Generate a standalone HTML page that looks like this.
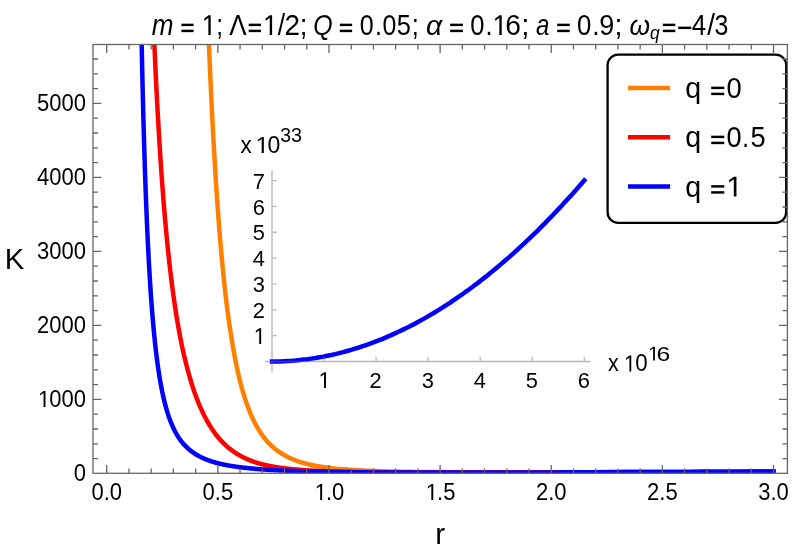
<!DOCTYPE html>
<html><head><meta charset="utf-8"><title>K vs r</title>
<style>html,body{margin:0;padding:0;background:#fff;}body{width:793px;height:557px;overflow:hidden;}svg{display:block;will-change:transform;}text{font-family:"Liberation Sans",sans-serif;fill:#000;}</style>
</head><body>
<svg width="793" height="557" viewBox="0 0 793 557">
<rect width="793" height="557" fill="#fff"/>
<defs><clipPath id="cp"><rect x="93.00" y="44.50" width="694.40" height="428.80"/></clipPath></defs>
<g clip-path="url(#cp)" fill="none" stroke-width="4.50" stroke-linecap="square" stroke-linejoin="round">
<path d="M206.7,-15.4L207.1,-4.1L207.5,6.9L207.9,17.5L208.3,27.9L208.7,38.0L209.1,47.9L209.5,57.4L209.9,66.8L210.3,75.9L210.7,84.7L211.1,93.3L211.5,101.7L211.9,109.9L212.3,117.8L212.7,125.6L213.1,133.1L213.5,140.5L213.9,147.7L214.3,154.7L214.7,161.5L215.1,168.1L215.5,174.6L215.9,180.9L216.3,187.1L216.7,193.1L217.1,199.0L217.5,204.7L217.9,210.3L218.3,215.7L218.7,221.0L219.1,226.2L219.5,231.3L219.9,236.2L220.3,241.0L220.7,245.7L221.1,250.3L221.5,254.8L221.9,259.2L222.3,263.4L222.7,267.6L223.1,271.7L223.5,275.7L223.9,279.5L224.3,283.3L224.7,287.0L225.1,290.7L225.5,294.2L225.9,297.7L226.3,301.1L226.7,304.4L227.1,307.6L227.5,310.7L227.9,313.8L228.3,316.8L228.7,319.8L229.1,322.7L229.5,325.5L230.0,328.3L230.4,331.0L230.8,333.6L231.2,336.2L231.6,338.7L232.0,341.2L232.4,343.6L232.8,346.0L233.2,348.3L233.6,350.5L234.0,352.7L234.4,354.9L234.8,357.0L235.2,359.1L235.6,361.2L236.0,363.1L236.4,365.1L236.8,367.0L237.2,368.9L237.6,370.7L238.0,372.5L238.4,374.2L238.8,376.0L239.2,377.6L239.6,379.3L240.0,380.9L240.4,382.5L240.8,384.0L241.2,385.6L241.6,387.1L242.0,388.5L242.4,389.9L242.8,391.3L243.2,392.7L243.6,394.1L244.0,395.4L244.4,396.7L244.8,397.9L245.2,399.2L245.6,400.4L246.0,401.6L246.4,402.8L246.8,403.9L247.2,405.1L247.6,406.2L248.0,407.2L248.4,408.3L248.8,409.4L249.2,410.4L249.6,411.4L250.0,412.4L250.4,413.3L250.8,414.3L251.2,415.2L251.6,416.1L252.0,417.0L252.4,417.9L252.8,418.8L253.2,419.6L253.6,420.4L254.0,421.3L254.4,422.1L254.8,422.8L255.2,423.6L255.6,424.4L256.0,425.1L256.4,425.8L256.8,426.6L257.2,427.3L257.6,428.0L258.0,428.6L258.4,429.3L258.8,430.0L259.2,430.6L259.6,431.2L260.0,431.9L260.4,432.5L260.8,433.1L261.2,433.7L261.6,434.2L262.0,434.8L262.4,435.4L262.8,435.9L263.2,436.5L263.6,437.0L264.0,437.5L264.4,438.0L264.8,438.5L265.2,439.0L265.6,439.5L266.0,440.0L266.4,440.5L266.8,440.9L267.2,441.4L267.6,441.8L268.0,442.3L268.4,442.7L268.8,443.1L269.2,443.5L269.6,443.9L270.0,444.3L270.4,444.7L270.8,445.1L271.2,445.5L271.6,445.9L272.0,446.3L272.4,446.6L272.8,447.0L273.2,447.3L273.6,447.7L274.0,448.0L274.4,448.4L274.9,448.7L275.3,449.0L275.7,449.4L276.1,449.7L276.5,450.0L276.9,450.3L277.3,450.6L277.7,450.9L278.1,451.2L278.5,451.5L278.9,451.7L279.3,452.0L279.7,452.3L280.1,452.6L280.5,452.8L280.9,453.1L281.3,453.3L281.7,453.6L282.1,453.9L282.5,454.1L282.9,454.3L283.3,454.6L283.7,454.8L284.1,455.0L284.5,455.3L284.9,455.5L285.3,455.7L285.7,455.9L286.1,456.1L286.5,456.4L286.9,456.6L287.3,456.8L287.7,457.0L288.1,457.2L288.5,457.4L288.9,457.6L289.3,457.7L289.7,457.9L290.1,458.1L290.5,458.3L290.9,458.5L291.3,458.7L291.7,458.8L292.1,459.0L292.5,459.2L292.9,459.3L293.3,459.5L293.7,459.7L294.1,459.8L294.5,460.0L294.9,460.1L295.3,460.3L295.7,460.4L296.1,460.6L296.5,460.7L296.9,460.9L297.3,461.0L297.7,461.2L298.1,461.3L298.5,461.4L298.9,461.6L299.3,461.7L299.7,461.8L300.1,462.0L300.5,462.1L300.9,462.2L301.3,462.3L301.7,462.4L302.1,462.6L302.5,462.7L302.9,462.8L303.3,462.9L303.7,463.0L304.1,463.1L304.5,463.3L304.9,463.4L305.3,463.5L305.7,463.6L306.1,463.7L306.5,463.8L306.9,463.9L307.3,464.0L307.7,464.1L308.1,464.2L308.5,464.3L308.9,464.4L309.3,464.5L309.7,464.6L310.1,464.7L310.5,464.7L310.9,464.8L311.3,464.9L311.7,465.0L312.1,465.1L312.5,465.2L312.9,465.3L313.3,465.3L313.7,465.4L314.1,465.5L314.5,465.6L314.9,465.7L315.3,465.7L315.7,465.8L316.1,465.9L316.5,466.0L316.9,466.0L317.3,466.1L317.7,466.2L318.1,466.2L318.5,466.3L318.9,466.4L319.3,466.5L319.7,466.5L320.2,466.6L320.6,466.7L321.0,466.7L321.4,466.8L321.8,466.8L322.2,466.9L322.6,467.0L323.0,467.0L323.4,467.1L323.8,467.1L324.2,467.2L324.6,467.3L325.0,467.3L325.4,467.4L325.8,467.4L326.2,467.5L326.6,467.5L327.0,467.6L327.4,467.6L327.8,467.7L328.2,467.7L328.6,467.8L329.0,467.8L332.7,468.3L336.4,468.7L340.2,469.0L343.9,469.3L347.6,469.6L351.4,469.9L355.1,470.1L358.9,470.3L362.6,470.5L366.3,470.7L370.1,470.8L373.8,471.0L377.5,471.1L381.3,471.2L385.0,471.3L388.7,471.4L392.5,471.5L396.2,471.6L399.9,471.7L403.7,471.7L407.4,471.8L411.2,471.8L414.9,471.9L418.6,471.9L422.4,472.0L426.1,472.0L429.8,472.0L433.6,472.1L437.3,472.1L441.0,472.1L444.8,472.1L448.5,472.2L452.2,472.2L456.0,472.2L459.7,472.2L463.5,472.2L467.2,472.2L470.9,472.2L474.7,472.3L478.4,472.3L482.1,472.3L485.9,472.3L489.6,472.3L493.3,472.3L497.1,472.3L500.8,472.3L504.5,472.3L508.3,472.3L512.0,472.3L515.8,472.3L519.5,472.3L523.2,472.3L527.0,472.3L530.7,472.3L534.4,472.3L538.2,472.3L541.9,472.3L545.6,472.3L549.4,472.2L553.1,472.2L556.8,472.2L560.6,472.2L564.3,472.2L568.1,472.2L571.8,472.2L575.5,472.2L579.3,472.2L583.0,472.2L586.7,472.2L590.5,472.2L594.2,472.2L597.9,472.1L601.7,472.1L605.4,472.1L609.1,472.1L612.9,472.1L616.6,472.1L620.3,472.1L624.1,472.1L627.8,472.1L631.6,472.0L635.3,472.0L639.0,472.0L642.8,472.0L646.5,472.0L650.2,472.0L654.0,472.0L657.7,472.0L661.4,471.9L665.2,471.9L668.9,471.9L672.6,471.9L676.4,471.9L680.1,471.9L683.9,471.9L687.6,471.9L691.3,471.8L695.1,471.8L698.8,471.8L702.5,471.8L706.3,471.8L710.0,471.8L713.7,471.8L717.5,471.7L721.2,471.7L724.9,471.7L728.7,471.7L732.4,471.7L736.2,471.7L739.9,471.7L743.6,471.6L747.4,471.6L751.1,471.6L754.8,471.6L758.6,471.6L762.3,471.6L766.0,471.5L769.8,471.5L773.5,471.5" stroke="#ff8000"/>
<path d="M152.2,-10.0L152.6,0.7L153.0,11.1L153.4,21.2L153.8,30.9L154.2,40.4L154.6,49.6L155.0,58.5L155.4,67.2L155.8,75.6L156.2,83.8L156.6,91.8L157.0,99.5L157.4,107.1L157.8,114.4L158.2,121.5L158.6,128.4L159.0,135.2L159.4,141.8L159.8,148.2L160.2,154.4L160.6,160.5L161.0,166.4L161.4,172.2L161.8,177.9L162.2,183.4L162.6,188.7L163.0,194.0L163.4,199.1L163.8,204.1L164.2,208.9L164.6,213.7L165.0,218.3L165.4,222.9L165.8,227.3L166.2,231.6L166.6,235.9L167.0,240.0L167.4,244.0L167.8,248.0L168.2,251.9L168.6,255.6L169.0,259.3L169.4,262.9L169.8,266.5L170.2,270.0L170.6,273.3L171.0,276.7L171.4,279.9L171.8,283.1L172.2,286.2L172.6,289.3L173.0,292.3L173.4,295.2L173.8,298.0L174.2,300.9L174.6,303.6L175.0,306.3L175.4,309.0L175.8,311.6L176.2,314.1L176.6,316.6L177.0,319.1L177.4,321.5L177.8,323.8L178.2,326.1L178.6,328.4L179.0,330.6L179.4,332.8L179.8,334.9L180.2,337.0L180.6,339.1L181.0,341.1L181.4,343.1L181.8,345.1L182.2,347.0L182.6,348.9L183.0,350.7L183.4,352.6L183.8,354.4L184.2,356.1L184.7,357.8L185.1,359.5L185.5,361.2L185.9,362.8L186.3,364.5L186.7,366.0L187.1,367.6L187.5,369.1L187.9,370.6L188.3,372.1L188.7,373.6L189.1,375.0L189.5,376.4L189.9,377.8L190.3,379.2L190.7,380.5L191.1,381.8L191.5,383.1L191.9,384.4L192.3,385.7L192.7,386.9L193.1,388.1L193.5,389.3L193.9,390.5L194.3,391.7L194.7,392.8L195.1,394.0L195.5,395.1L195.9,396.2L196.3,397.2L196.7,398.3L197.1,399.3L197.5,400.4L197.9,401.4L198.3,402.4L198.7,403.4L199.1,404.3L199.5,405.3L199.9,406.2L200.3,407.1L200.7,408.1L201.1,409.0L201.5,409.8L201.9,410.7L202.3,411.6L202.7,412.4L203.1,413.2L203.5,414.1L203.9,414.9L204.3,415.7L204.7,416.5L205.1,417.2L205.5,418.0L205.9,418.8L206.3,419.5L206.7,420.2L207.1,420.9L207.5,421.7L207.9,422.4L208.3,423.1L208.7,423.7L209.1,424.4L209.5,425.1L209.9,425.7L210.3,426.4L210.7,427.0L211.1,427.6L211.5,428.2L211.9,428.8L212.3,429.4L212.7,430.0L213.1,430.6L213.5,431.2L213.9,431.7L214.3,432.3L214.7,432.8L215.1,433.4L215.5,433.9L215.9,434.5L216.3,435.0L216.7,435.5L217.1,436.0L217.5,436.5L217.9,437.0L218.3,437.5L218.7,437.9L219.1,438.4L219.5,438.9L219.9,439.3L220.3,439.8L220.7,440.2L221.1,440.7L221.5,441.1L221.9,441.5L222.3,441.9L222.7,442.3L223.1,442.8L223.5,443.2L223.9,443.6L224.3,443.9L224.7,444.3L225.1,444.7L225.5,445.1L225.9,445.5L226.3,445.8L226.7,446.2L227.1,446.5L227.5,446.9L227.9,447.2L228.3,447.6L228.7,447.9L229.1,448.2L229.5,448.6L230.0,448.9L230.4,449.2L230.8,449.5L231.2,449.8L231.6,450.1L232.0,450.4L232.4,450.7L232.8,451.0L233.2,451.3L233.6,451.6L234.0,451.9L234.4,452.1L234.8,452.4L235.2,452.7L235.6,452.9L236.0,453.2L236.4,453.5L236.8,453.7L237.2,454.0L237.6,454.2L238.0,454.4L238.4,454.7L238.8,454.9L239.2,455.2L239.6,455.4L240.0,455.6L240.4,455.8L240.8,456.1L241.2,456.3L241.6,456.5L242.0,456.7L242.4,456.9L242.8,457.1L243.2,457.3L243.6,457.5L244.0,457.7L244.4,457.9L244.8,458.1L245.2,458.3L245.6,458.5L246.0,458.6L246.4,458.8L246.8,459.0L247.2,459.2L247.6,459.3L248.0,459.5L248.4,459.7L248.8,459.9L249.2,460.0L249.6,460.2L250.0,460.3L250.4,460.5L250.8,460.6L251.2,460.8L251.6,461.0L252.0,461.1L252.4,461.2L252.8,461.4L253.2,461.5L253.6,461.7L254.0,461.8L254.4,461.9L254.8,462.1L255.2,462.2L255.6,462.3L256.0,462.5L256.4,462.6L256.8,462.7L257.2,462.9L257.6,463.0L258.0,463.1L258.4,463.2L258.8,463.3L259.2,463.4L259.6,463.6L260.0,463.7L260.4,463.8L260.8,463.9L261.2,464.0L261.6,464.1L262.0,464.2L262.4,464.3L262.8,464.4L263.2,464.5L263.6,464.6L264.0,464.7L264.4,464.8L264.8,464.9L265.2,465.0L265.6,465.1L266.0,465.2L266.4,465.3L266.8,465.4L267.2,465.4L267.6,465.5L268.0,465.6L268.4,465.7L268.8,465.8L269.2,465.9L269.6,466.0L270.0,466.0L270.4,466.1L270.8,466.2L271.2,466.3L271.6,466.3L272.0,466.4L272.4,466.5L272.8,466.6L273.2,466.6L273.6,466.7L274.0,466.8L274.4,466.8L274.9,466.9L275.3,467.0L275.7,467.0L276.1,467.1L276.5,467.2L276.9,467.2L277.3,467.3L277.7,467.4L278.1,467.4L278.5,467.5L278.9,467.5L279.3,467.6L279.7,467.7L280.1,467.7L280.5,467.8L280.9,467.8L281.3,467.9L281.7,467.9L282.1,468.0L282.5,468.0L282.9,468.1L283.3,468.1L283.7,468.2L284.1,468.2L284.5,468.3L284.9,468.3L285.3,468.4L285.7,468.4L286.1,468.5L286.5,468.5L286.9,468.6L287.3,468.6L287.7,468.7L288.1,468.7L288.5,468.8L288.9,468.8L289.3,468.8L289.7,468.9L290.1,468.9L290.5,469.0L290.9,469.0L291.3,469.0L291.7,469.1L292.1,469.1L292.5,469.2L292.9,469.2L293.3,469.2L293.7,469.3L294.1,469.3L294.5,469.3L294.9,469.4L295.3,469.4L295.7,469.5L296.1,469.5L296.5,469.5L296.9,469.6L297.3,469.6L297.7,469.6L298.1,469.6L298.5,469.7L298.9,469.7L299.3,469.7L299.7,469.8L300.1,469.8L300.5,469.8L300.9,469.9L301.3,469.9L301.7,469.9L302.1,470.0L302.5,470.0L302.9,470.0L303.3,470.0L303.7,470.1L304.1,470.1L304.5,470.1L304.9,470.1L305.3,470.2L305.7,470.2L306.1,470.2L306.5,470.2L306.9,470.3L307.3,470.3L307.7,470.3L308.1,470.3L308.5,470.4L308.9,470.4L309.3,470.4L309.7,470.4L310.1,470.5L310.5,470.5L310.9,470.5L311.3,470.5L311.7,470.5L312.1,470.6L312.5,470.6L312.9,470.6L313.3,470.6L313.7,470.6L314.1,470.7L314.5,470.7L314.9,470.7L315.3,470.7L315.7,470.7L316.1,470.8L316.5,470.8L316.9,470.8L317.3,470.8L317.7,470.8L318.1,470.8L318.5,470.9L318.9,470.9L319.3,470.9L319.7,470.9L320.2,470.9L320.6,471.0L321.0,471.0L321.4,471.0L321.8,471.0L322.2,471.0L322.6,471.0L323.0,471.0L323.4,471.1L323.8,471.1L324.2,471.1L324.6,471.1L325.0,471.1L325.4,471.1L325.8,471.1L326.2,471.2L326.6,471.2L327.0,471.2L327.4,471.2L327.8,471.2L328.2,471.2L328.6,471.2L329.0,471.3L332.7,471.4L336.4,471.5L340.2,471.6L343.9,471.7L347.6,471.7L351.4,471.8L355.1,471.9L358.9,471.9L362.6,472.0L366.3,472.0L370.1,472.1L373.8,472.1L377.5,472.1L381.3,472.2L385.0,472.2L388.7,472.2L392.5,472.3L396.2,472.3L399.9,472.3L403.7,472.3L407.4,472.3L411.2,472.4L414.9,472.4L418.6,472.4L422.4,472.4L426.1,472.4L429.8,472.4L433.6,472.4L437.3,472.4L441.0,472.4L444.8,472.4L448.5,472.4L452.2,472.4L456.0,472.4L459.7,472.4L463.5,472.4L467.2,472.4L470.9,472.4L474.7,472.4L478.4,472.4L482.1,472.4L485.9,472.4L489.6,472.4L493.3,472.4L497.1,472.4L500.8,472.4L504.5,472.4L508.3,472.4L512.0,472.4L515.8,472.4L519.5,472.4L523.2,472.4L527.0,472.4L530.7,472.4L534.4,472.3L538.2,472.3L541.9,472.3L545.6,472.3L549.4,472.3L553.1,472.3L556.8,472.3L560.6,472.3L564.3,472.3L568.1,472.3L571.8,472.3L575.5,472.2L579.3,472.2L583.0,472.2L586.7,472.2L590.5,472.2L594.2,472.2L597.9,472.2L601.7,472.2L605.4,472.2L609.1,472.1L612.9,472.1L616.6,472.1L620.3,472.1L624.1,472.1L627.8,472.1L631.6,472.1L635.3,472.1L639.0,472.0L642.8,472.0L646.5,472.0L650.2,472.0L654.0,472.0L657.7,472.0L661.4,472.0L665.2,472.0L668.9,471.9L672.6,471.9L676.4,471.9L680.1,471.9L683.9,471.9L687.6,471.9L691.3,471.9L695.1,471.8L698.8,471.8L702.5,471.8L706.3,471.8L710.0,471.8L713.7,471.8L717.5,471.8L721.2,471.7L724.9,471.7L728.7,471.7L732.4,471.7L736.2,471.7L739.9,471.7L743.6,471.6L747.4,471.6L751.1,471.6L754.8,471.6L758.6,471.6L762.3,471.6L766.0,471.6L769.8,471.5L773.5,471.5" stroke="#ff0000"/>
<path d="M140.6,-12.8L141.0,9.7L141.4,30.8L141.8,50.5L142.2,69.0L142.6,86.4L143.0,102.8L143.4,118.2L143.8,132.7L144.2,146.4L144.6,159.4L145.0,171.6L145.4,183.2L145.8,194.2L146.2,204.6L146.6,214.5L147.0,223.9L147.4,232.8L147.8,241.3L148.2,249.3L148.6,257.0L149.0,264.4L149.4,271.3L149.8,278.0L150.2,284.4L150.6,290.5L151.0,296.3L151.4,301.8L151.8,307.2L152.2,312.3L152.6,317.2L153.0,321.8L153.4,326.3L153.8,330.6L154.2,334.8L154.6,338.7L155.0,342.6L155.4,346.2L155.8,349.8L156.2,353.2L156.6,356.4L157.0,359.6L157.4,362.6L157.8,365.5L158.2,368.3L158.6,371.0L159.0,373.6L159.4,376.2L159.8,378.6L160.2,381.0L160.6,383.2L161.0,385.4L161.4,387.5L161.8,389.6L162.2,391.6L162.6,393.5L163.0,395.3L163.4,397.1L163.8,398.9L164.2,400.6L164.6,402.2L165.0,403.8L165.4,405.3L165.8,406.8L166.2,408.2L166.6,409.6L167.0,411.0L167.4,412.3L167.8,413.6L168.2,414.8L168.6,416.0L169.0,417.2L169.4,418.3L169.8,419.4L170.2,420.5L170.6,421.5L171.0,422.5L171.4,423.5L171.8,424.5L172.2,425.4L172.6,426.3L173.0,427.2L173.4,428.1L173.8,428.9L174.2,429.7L174.6,430.5L175.0,431.3L175.4,432.0L175.8,432.8L176.2,433.5L176.6,434.2L177.0,434.9L177.4,435.5L177.8,436.2L178.2,436.8L178.6,437.4L179.0,438.1L179.4,438.6L179.8,439.2L180.2,439.8L180.6,440.3L181.0,440.9L181.4,441.4L181.8,441.9L182.2,442.4L182.6,442.9L183.0,443.4L183.4,443.8L183.8,444.3L184.2,444.7L184.7,445.2L185.1,445.6L185.5,446.0L185.9,446.4L186.3,446.8L186.7,447.2L187.1,447.6L187.5,448.0L187.9,448.4L188.3,448.7L188.7,449.1L189.1,449.4L189.5,449.8L189.9,450.1L190.3,450.4L190.7,450.7L191.1,451.1L191.5,451.4L191.9,451.7L192.3,452.0L192.7,452.2L193.1,452.5L193.5,452.8L193.9,453.1L194.3,453.3L194.7,453.6L195.1,453.9L195.5,454.1L195.9,454.4L196.3,454.6L196.7,454.9L197.1,455.1L197.5,455.3L197.9,455.6L198.3,455.8L198.7,456.0L199.1,456.2L199.5,456.4L199.9,456.6L200.3,456.8L200.7,457.0L201.1,457.2L201.5,457.4L201.9,457.6L202.3,457.8L202.7,458.0L203.1,458.2L203.5,458.3L203.9,458.5L204.3,458.7L204.7,458.9L205.1,459.0L205.5,459.2L205.9,459.4L206.3,459.5L206.7,459.7L207.1,459.8L207.5,460.0L207.9,460.1L208.3,460.3L208.7,460.4L209.1,460.6L209.5,460.7L209.9,460.8L210.3,461.0L210.7,461.1L211.1,461.2L211.5,461.4L211.9,461.5L212.3,461.6L212.7,461.8L213.1,461.9L213.5,462.0L213.9,462.1L214.3,462.2L214.7,462.3L215.1,462.5L215.5,462.6L215.9,462.7L216.3,462.8L216.7,462.9L217.1,463.0L217.5,463.1L217.9,463.2L218.3,463.3L218.7,463.4L219.1,463.5L219.5,463.6L219.9,463.7L220.3,463.8L220.7,463.9L221.1,464.0L221.5,464.1L221.9,464.2L222.3,464.3L222.7,464.3L223.1,464.4L223.5,464.5L223.9,464.6L224.3,464.7L224.7,464.8L225.1,464.8L225.5,464.9L225.9,465.0L226.3,465.1L226.7,465.2L227.1,465.2L227.5,465.3L227.9,465.4L228.3,465.5L228.7,465.5L229.1,465.6L229.5,465.7L230.0,465.7L230.4,465.8L230.8,465.9L231.2,465.9L231.6,466.0L232.0,466.1L232.4,466.1L232.8,466.2L233.2,466.3L233.6,466.3L234.0,466.4L234.4,466.4L234.8,466.5L235.2,466.6L235.6,466.6L236.0,466.7L236.4,466.7L236.8,466.8L237.2,466.9L237.6,466.9L238.0,467.0L238.4,467.0L238.8,467.1L239.2,467.1L239.6,467.2L240.0,467.2L240.4,467.3L240.8,467.3L241.2,467.4L241.6,467.4L242.0,467.5L242.4,467.5L242.8,467.6L243.2,467.6L243.6,467.7L244.0,467.7L244.4,467.8L244.8,467.8L245.2,467.8L245.6,467.9L246.0,467.9L246.4,468.0L246.8,468.0L247.2,468.1L247.6,468.1L248.0,468.1L248.4,468.2L248.8,468.2L249.2,468.3L249.6,468.3L250.0,468.3L250.4,468.4L250.8,468.4L251.2,468.5L251.6,468.5L252.0,468.5L252.4,468.6L252.8,468.6L253.2,468.6L253.6,468.7L254.0,468.7L254.4,468.8L254.8,468.8L255.2,468.8L255.6,468.9L256.0,468.9L256.4,468.9L256.8,469.0L257.2,469.0L257.6,469.0L258.0,469.1L258.4,469.1L258.8,469.1L259.2,469.1L259.6,469.2L260.0,469.2L260.4,469.2L260.8,469.3L261.2,469.3L261.6,469.3L262.0,469.4L262.4,469.4L262.8,469.4L263.2,469.4L263.6,469.5L264.0,469.5L264.4,469.5L264.8,469.6L265.2,469.6L265.6,469.6L266.0,469.6L266.4,469.7L266.8,469.7L267.2,469.7L267.6,469.7L268.0,469.8L268.4,469.8L268.8,469.8L269.2,469.8L269.6,469.9L270.0,469.9L270.4,469.9L270.8,469.9L271.2,470.0L271.6,470.0L272.0,470.0L272.4,470.0L272.8,470.1L273.2,470.1L273.6,470.1L274.0,470.1L274.4,470.1L274.9,470.2L275.3,470.2L275.7,470.2L276.1,470.2L276.5,470.2L276.9,470.3L277.3,470.3L277.7,470.3L278.1,470.3L278.5,470.3L278.9,470.4L279.3,470.4L279.7,470.4L280.1,470.4L280.5,470.4L280.9,470.5L281.3,470.5L281.7,470.5L282.1,470.5L282.5,470.5L282.9,470.6L283.3,470.6L283.7,470.6L284.1,470.6L284.5,470.6L284.9,470.6L285.3,470.7L285.7,470.7L286.1,470.7L286.5,470.7L286.9,470.7L287.3,470.7L287.7,470.8L288.1,470.8L288.5,470.8L288.9,470.8L289.3,470.8L289.7,470.8L290.1,470.9L290.5,470.9L290.9,470.9L291.3,470.9L291.7,470.9L292.1,470.9L292.5,470.9L292.9,471.0L293.3,471.0L293.7,471.0L294.1,471.0L294.5,471.0L294.9,471.0L295.3,471.0L295.7,471.1L296.1,471.1L296.5,471.1L296.9,471.1L297.3,471.1L297.7,471.1L298.1,471.1L298.5,471.2L298.9,471.2L299.3,471.2L299.7,471.2L300.1,471.2L300.5,471.2L300.9,471.2L301.3,471.2L301.7,471.3L302.1,471.3L302.5,471.3L302.9,471.3L303.3,471.3L303.7,471.3L304.1,471.3L304.5,471.3L304.9,471.4L305.3,471.4L305.7,471.4L306.1,471.4L306.5,471.4L306.9,471.4L307.3,471.4L307.7,471.4L308.1,471.4L308.5,471.4L308.9,471.5L309.3,471.5L309.7,471.5L310.1,471.5L310.5,471.5L310.9,471.5L311.3,471.5L311.7,471.5L312.1,471.5L312.5,471.6L312.9,471.6L313.3,471.6L313.7,471.6L314.1,471.6L314.5,471.6L314.9,471.6L315.3,471.6L315.7,471.6L316.1,471.6L316.5,471.6L316.9,471.7L317.3,471.7L317.7,471.7L318.1,471.7L318.5,471.7L318.9,471.7L319.3,471.7L319.7,471.7L320.2,471.7L320.6,471.7L321.0,471.7L321.4,471.7L321.8,471.8L322.2,471.8L322.6,471.8L323.0,471.8L323.4,471.8L323.8,471.8L324.2,471.8L324.6,471.8L325.0,471.8L325.4,471.8L325.8,471.8L326.2,471.8L326.6,471.8L327.0,471.9L327.4,471.9L327.8,471.9L328.2,471.9L328.6,471.9L329.0,471.9L332.7,472.0L336.4,472.0L340.2,472.1L343.9,472.1L347.6,472.2L351.4,472.2L355.1,472.2L358.9,472.3L362.6,472.3L366.3,472.3L370.1,472.4L373.8,472.4L377.5,472.4L381.3,472.4L385.0,472.4L388.7,472.5L392.5,472.5L396.2,472.5L399.9,472.5L403.7,472.5L407.4,472.5L411.2,472.5L414.9,472.5L418.6,472.5L422.4,472.5L426.1,472.6L429.8,472.6L433.6,472.6L437.3,472.6L441.0,472.6L444.8,472.6L448.5,472.6L452.2,472.6L456.0,472.6L459.7,472.6L463.5,472.5L467.2,472.5L470.9,472.5L474.7,472.5L478.4,472.5L482.1,472.5L485.9,472.5L489.6,472.5L493.3,472.5L497.1,472.5L500.8,472.5L504.5,472.5L508.3,472.5L512.0,472.5L515.8,472.5L519.5,472.5L523.2,472.4L527.0,472.4L530.7,472.4L534.4,472.4L538.2,472.4L541.9,472.4L545.6,472.4L549.4,472.4L553.1,472.4L556.8,472.4L560.6,472.3L564.3,472.3L568.1,472.3L571.8,472.3L575.5,472.3L579.3,472.3L583.0,472.3L586.7,472.3L590.5,472.3L594.2,472.2L597.9,472.2L601.7,472.2L605.4,472.2L609.1,472.2L612.9,472.2L616.6,472.2L620.3,472.2L624.1,472.1L627.8,472.1L631.6,472.1L635.3,472.1L639.0,472.1L642.8,472.1L646.5,472.1L650.2,472.0L654.0,472.0L657.7,472.0L661.4,472.0L665.2,472.0L668.9,472.0L672.6,472.0L676.4,471.9L680.1,471.9L683.9,471.9L687.6,471.9L691.3,471.9L695.1,471.9L698.8,471.9L702.5,471.8L706.3,471.8L710.0,471.8L713.7,471.8L717.5,471.8L721.2,471.8L724.9,471.7L728.7,471.7L732.4,471.7L736.2,471.7L739.9,471.7L743.6,471.7L747.4,471.7L751.1,471.6L754.8,471.6L758.6,471.6L762.3,471.6L766.0,471.6L769.8,471.6L773.5,471.5" stroke="#0000ff"/>
</g>
<path d="M272.0,361.5L276.0,361.5L279.9,361.4L283.9,361.2L287.8,361.0L291.8,360.8L295.7,360.5L299.7,360.1L303.6,359.6L307.6,359.2L311.5,358.6L315.5,358.0L319.4,357.3L323.4,356.6L327.3,355.8L331.3,355.0L335.3,354.1L339.2,353.1L343.2,352.1L347.1,351.0L351.1,349.9L355.0,348.7L359.0,347.5L362.9,346.2L366.9,344.8L370.8,343.4L374.8,341.9L378.7,340.4L382.7,338.8L386.6,337.1L390.6,335.4L394.5,333.6L398.5,331.8L402.5,329.9L406.4,328.0L410.4,326.0L414.3,323.9L418.3,321.8L422.2,319.6L426.2,317.4L430.1,315.1L434.1,312.7L438.0,310.3L442.0,307.9L445.9,305.3L449.9,302.8L453.8,300.1L457.8,297.4L461.8,294.7L465.7,291.8L469.7,289.0L473.6,286.0L477.6,283.1L481.5,280.0L485.5,276.9L489.4,273.7L493.4,270.5L497.3,267.2L501.3,263.9L505.2,260.5L509.2,257.1L513.1,253.6L517.1,250.0L521.0,246.4L525.0,242.7L529.0,238.9L532.9,235.1L536.9,231.3L540.8,227.4L544.8,223.4L548.7,219.3L552.7,215.3L556.6,211.1L560.6,206.9L564.5,202.6L568.5,198.3L572.4,193.9L576.4,189.5L580.3,185.0L584.3,180.4" fill="none" stroke="#0000ff" stroke-width="4.50" stroke-linecap="square"/>
<g stroke="#707070" stroke-opacity="0.5" stroke-width="1.3" fill="none">
<path d="M272.00,170.50V371.80M265.00,361.50H590.30"/>
<path d="M272.65,335.65h4.0M272.65,309.80h4.0M272.65,283.95h4.0M272.65,258.10h4.0M272.65,232.25h4.0M272.65,206.40h4.0M272.65,180.55h4.0M324.05,360.85v-4.0M376.10,360.85v-4.0M428.15,360.85v-4.0M480.20,360.85v-4.0M532.25,360.85v-4.0M584.30,360.85v-4.0"/>
</g>
<g transform="matrix(0.9600 0 0 1 252.73 344.00)">
<path d="M515,0V-1237L197,-1010V-1180L530,-1409H696V0Z" transform="matrix(0.01113 0 0 0.01113 1.03 0)"/>
</g>
<g transform="matrix(0.9600 0 0 1 252.73 318.00)">
<text x="0.00" font-size="22.80">2</text>
</g>
<g transform="matrix(0.9600 0 0 1 252.73 292.00)">
<text x="0.00" font-size="22.80">3</text>
</g>
<g transform="matrix(0.9600 0 0 1 252.73 266.00)">
<text x="0.00" font-size="22.80">4</text>
</g>
<g transform="matrix(0.9600 0 0 1 252.73 240.00)">
<text x="0.00" font-size="22.80">5</text>
</g>
<g transform="matrix(0.9600 0 0 1 252.73 215.00)">
<text x="0.00" font-size="22.80">6</text>
</g>
<g transform="matrix(0.9600 0 0 1 252.73 189.00)">
<text x="0.00" font-size="22.80">7</text>
</g>
<g transform="matrix(0.9600 0 0 1 317.56 388.00)">
<path d="M515,0V-1237L197,-1010V-1180L530,-1409H696V0Z" transform="matrix(0.01113 0 0 0.01113 1.03 0)"/>
</g>
<g transform="matrix(0.9600 0 0 1 369.61 388.00)">
<text x="0.00" font-size="22.80">2</text>
</g>
<g transform="matrix(0.9600 0 0 1 421.66 388.00)">
<text x="0.00" font-size="22.80">3</text>
</g>
<g transform="matrix(0.9600 0 0 1 473.71 388.00)">
<text x="0.00" font-size="22.80">4</text>
</g>
<g transform="matrix(0.9600 0 0 1 525.76 388.00)">
<text x="0.00" font-size="22.80">5</text>
</g>
<g transform="matrix(0.9600 0 0 1 577.81 388.00)">
<text x="0.00" font-size="22.80">6</text>
</g>
<text font-size="23.20" transform="matrix(0.9738 0 0 1 240.60 153.00)">x</text>
<path d="M515,0V-1237L197,-1010V-1180L530,-1409H696V0Z" transform="matrix(0.01202 0 0 0.01133 255.48 153.00)"/>
<text font-size="23.20" transform="matrix(0.9919 0 0 1 267.55 153.00)">0</text>
<text font-size="20.30" transform="matrix(0.9559 0 0 1 280.31 142.00)">3</text>
<text font-size="20.30" transform="matrix(0.9767 0 0 1 290.89 142.00)">3</text>
<text font-size="23.20" transform="matrix(0.9287 0 0 1 608.01 371.00)">x</text>
<path d="M515,0V-1237L197,-1010V-1180L530,-1409H696V0Z" transform="matrix(0.01022 0 0 0.01133 624.14 371.40)"/>
<text font-size="23.20" transform="matrix(0.9603 0 0 1 635.33 371.00)">0</text>
<path d="M515,0V-1237L197,-1010V-1180L530,-1409H696V0Z" transform="matrix(0.01002 0 0 0.00991 647.98 360.60)"/>
<text font-size="20.30" transform="matrix(1.2170 0 0 1 656.40 361.00)">6</text>
<rect x="607.6" y="54.7" width="178.6" height="168.1" rx="10.6" ry="10.6" fill="#fff" stroke="#000" stroke-width="2.3"/>
<g stroke-width="4.5" fill="none">
<path d="M628.0,87.95H670.1" stroke="#ff8000"/>
<path d="M628.0,137.35H670.1" stroke="#ff0000"/>
<path d="M628.0,186.60H670.1" stroke="#0000ff"/>
</g>
<text font-size="28.60" transform="matrix(1.0019 0 0 1 685.25 98.00)">q</text>
<rect x="711.20" y="86.66" width="13.10" height="2.45"/>
<rect x="711.20" y="92.69" width="13.10" height="2.45"/>
<text font-size="28.60" transform="matrix(0.9582 0 0 1 726.48 98.00)">0</text>
<text font-size="28.60" transform="matrix(1.0019 0 0 1 685.25 147.00)">q</text>
<rect x="711.20" y="135.66" width="13.10" height="2.45"/>
<rect x="711.20" y="141.69" width="13.10" height="2.45"/>
<text font-size="28.60" transform="matrix(0.9509 0 0 1 726.59 147.00)">0</text>
<text font-size="28.60" transform="matrix(0.8446 0 0 1 742.24 147.00)">.</text>
<text font-size="28.60" transform="matrix(0.9513 0 0 1 750.56 147.00)">5</text>
<text font-size="28.60" transform="matrix(1.0019 0 0 1 685.25 196.50)">q</text>
<rect x="711.20" y="185.16" width="13.10" height="2.45"/>
<rect x="711.20" y="191.19" width="13.10" height="2.45"/>
<path d="M515,0V-1237L197,-1010V-1180L530,-1409H696V0Z" transform="matrix(0.01463 0 0 0.01396 726.27 196.50)"/>
<g stroke="#666666" stroke-width="1.30" fill="none">
<rect x="93.00" y="44.50" width="694.40" height="428.80"/>
<path d="M106.70,473.30v-8.40M106.70,44.50v8.40M128.93,473.30v-4.90M128.93,44.50v4.90M151.15,473.30v-4.90M151.15,44.50v4.90M173.38,473.30v-4.90M173.38,44.50v4.90M195.61,473.30v-4.90M195.61,44.50v4.90M217.84,473.30v-8.40M217.84,44.50v8.40M240.06,473.30v-4.90M240.06,44.50v4.90M262.29,473.30v-4.90M262.29,44.50v4.90M284.52,473.30v-4.90M284.52,44.50v4.90M306.74,473.30v-4.90M306.74,44.50v4.90M328.97,473.30v-8.40M328.97,44.50v8.40M351.20,473.30v-4.90M351.20,44.50v4.90M373.42,473.30v-4.90M373.42,44.50v4.90M395.65,473.30v-4.90M395.65,44.50v4.90M417.88,473.30v-4.90M417.88,44.50v4.90M440.11,473.30v-8.40M440.11,44.50v8.40M462.33,473.30v-4.90M462.33,44.50v4.90M484.56,473.30v-4.90M484.56,44.50v4.90M506.79,473.30v-4.90M506.79,44.50v4.90M529.01,473.30v-4.90M529.01,44.50v4.90M551.24,473.30v-8.40M551.24,44.50v8.40M573.47,473.30v-4.90M573.47,44.50v4.90M595.69,473.30v-4.90M595.69,44.50v4.90M617.92,473.30v-4.90M617.92,44.50v4.90M640.15,473.30v-4.90M640.15,44.50v4.90M662.38,473.30v-8.40M662.38,44.50v8.40M684.60,473.30v-4.90M684.60,44.50v4.90M706.83,473.30v-4.90M706.83,44.50v4.90M729.06,473.30v-4.90M729.06,44.50v4.90M751.28,473.30v-4.90M751.28,44.50v4.90M773.51,473.30v-8.40M773.51,44.50v8.40M93.00,458.60h4.90M787.40,458.60h-4.90M93.00,443.80h4.90M787.40,443.80h-4.90M93.00,429.00h4.90M787.40,429.00h-4.90M93.00,414.20h4.90M787.40,414.20h-4.90M93.00,399.40h8.40M787.40,399.40h-8.40M93.00,384.60h4.90M787.40,384.60h-4.90M93.00,369.80h4.90M787.40,369.80h-4.90M93.00,355.00h4.90M787.40,355.00h-4.90M93.00,340.20h4.90M787.40,340.20h-4.90M93.00,325.40h8.40M787.40,325.40h-8.40M93.00,310.60h4.90M787.40,310.60h-4.90M93.00,295.80h4.90M787.40,295.80h-4.90M93.00,281.00h4.90M787.40,281.00h-4.90M93.00,266.20h4.90M787.40,266.20h-4.90M93.00,251.40h8.40M787.40,251.40h-8.40M93.00,236.60h4.90M787.40,236.60h-4.90M93.00,221.80h4.90M787.40,221.80h-4.90M93.00,207.00h4.90M787.40,207.00h-4.90M93.00,192.20h4.90M787.40,192.20h-4.90M93.00,177.40h8.40M787.40,177.40h-8.40M93.00,162.60h4.90M787.40,162.60h-4.90M93.00,147.80h4.90M787.40,147.80h-4.90M93.00,133.00h4.90M787.40,133.00h-4.90M93.00,118.20h4.90M787.40,118.20h-4.90M93.00,103.40h8.40M787.40,103.40h-8.40M93.00,88.60h4.90M787.40,88.60h-4.90M93.00,73.80h4.90M787.40,73.80h-4.90M93.00,59.00h4.90M787.40,59.00h-4.90"/>
</g>
<g transform="matrix(0.9500 0 0 1 91.38 500.00)">
<text x="0.00" font-size="23.20">0.0</text>
</g>
<g transform="matrix(0.9500 0 0 1 202.52 500.00)">
<text x="0.00" font-size="23.20">0.5</text>
</g>
<g transform="matrix(0.9500 0 0 1 313.65 500.00)">
<path d="M515,0V-1237L197,-1010V-1180L530,-1409H696V0Z" transform="matrix(0.01133 0 0 0.01133 1.04 0)"/>
<text x="12.90" font-size="23.20">.0</text>
</g>
<g transform="matrix(0.9500 0 0 1 424.79 500.00)">
<path d="M515,0V-1237L197,-1010V-1180L530,-1409H696V0Z" transform="matrix(0.01133 0 0 0.01133 1.04 0)"/>
<text x="12.90" font-size="23.20">.5</text>
</g>
<g transform="matrix(0.9500 0 0 1 535.92 500.00)">
<text x="0.00" font-size="23.20">2.0</text>
</g>
<g transform="matrix(0.9500 0 0 1 647.06 500.00)">
<text x="0.00" font-size="23.20">2.5</text>
</g>
<g transform="matrix(0.9500 0 0 1 758.19 500.00)">
<text x="0.00" font-size="23.20">3.0</text>
</g>
<g transform="matrix(0.9500 0 0 1 73.79 481.00)">
<text x="0.00" font-size="23.20">0</text>
</g>
<g transform="matrix(0.9500 0 0 1 37.02 407.00)">
<path d="M515,0V-1237L197,-1010V-1180L530,-1409H696V0Z" transform="matrix(0.01133 0 0 0.01133 1.04 0)"/>
<text x="12.90" font-size="23.20">000</text>
</g>
<g transform="matrix(0.9500 0 0 1 37.02 333.00)">
<text x="0.00" font-size="23.20">2000</text>
</g>
<g transform="matrix(0.9500 0 0 1 37.02 259.00)">
<text x="0.00" font-size="23.20">3000</text>
</g>
<g transform="matrix(0.9500 0 0 1 37.02 185.00)">
<text x="0.00" font-size="23.20">4000</text>
</g>
<g transform="matrix(0.9500 0 0 1 37.02 111.00)">
<text x="0.00" font-size="23.20">5000</text>
</g>
<text transform="matrix(0.97 0 0 1 4.85 269)" font-size="30.2">K</text>
<text x="435.3" y="544" font-size="29.8">r</text>
<text font-size="28.60" font-style="italic" transform="matrix(0.9127 0 0 1 151.87 35.00)">m</text>
<rect x="181.40" y="23.66" width="12.20" height="2.45"/>
<rect x="181.40" y="29.69" width="12.20" height="2.45"/>
<path d="M515,0V-1237L197,-1010V-1180L530,-1409H696V0Z" transform="matrix(0.01283 0 0 0.01396 201.77 35.00)"/>
<text font-size="28.60" transform="matrix(0.8550 0 0 1 216.20 35.00)">;</text>
<text font-size="28.60" transform="matrix(0.9084 0 0 1 229.17 35.00)">Λ</text>
<rect x="248.70" y="23.66" width="12.30" height="2.45"/>
<rect x="248.70" y="29.69" width="12.30" height="2.45"/>
<path d="M515,0V-1237L197,-1010V-1180L530,-1409H696V0Z" transform="matrix(0.01303 0 0 0.01396 263.03 35.00)"/>
<text font-size="28.60" transform="matrix(0.9313 0 0 1 277.80 35.00)">/</text>
<text font-size="28.60" transform="matrix(0.9747 0 0 1 284.60 35.00)">2</text>
<text font-size="28.60" transform="matrix(0.9619 0 0 1 299.73 35.00)">;</text>
<text font-size="28.60" font-style="italic" transform="matrix(0.8694 0 0 1 313.17 35.00)">Q</text>
<rect x="339.80" y="23.66" width="12.30" height="2.45"/>
<rect x="339.80" y="29.69" width="12.30" height="2.45"/>
<text font-size="28.60" transform="matrix(0.8777 0 0 1 359.82 35.00)">0</text>
<text font-size="28.60" transform="matrix(0.8813 0 0 1 375.10 35.00)">.</text>
<text font-size="28.60" transform="matrix(0.8704 0 0 1 382.53 35.00)">0</text>
<text font-size="28.60" transform="matrix(0.8923 0 0 1 396.68 35.00)">5</text>
<text font-size="28.60" transform="matrix(0.8907 0 0 1 411.81 35.00)">;</text>
<text font-size="28.60" font-style="italic" transform="matrix(0.9935 0 0 1 425.93 35.00)">α</text>
<rect x="450.20" y="23.66" width="12.70" height="2.45"/>
<rect x="450.20" y="29.69" width="12.70" height="2.45"/>
<text font-size="28.60" transform="matrix(0.8924 0 0 1 470.30 35.00)">0</text>
<text font-size="28.60" transform="matrix(0.8813 0 0 1 485.40 35.00)">.</text>
<path d="M515,0V-1237L197,-1010V-1180L530,-1409H696V0Z" transform="matrix(0.01303 0 0 0.01396 492.63 35.00)"/>
<text font-size="28.60" transform="matrix(0.9851 0 0 1 505.37 35.00)">6</text>
<text font-size="28.60" transform="matrix(1.0332 0 0 1 521.15 35.00)">;</text>
<text font-size="28.60" font-style="italic" transform="matrix(0.8400 0 0 1 535.96 35.00)">a</text>
<rect x="557.20" y="23.66" width="12.50" height="2.45"/>
<rect x="557.20" y="29.69" width="12.50" height="2.45"/>
<text font-size="28.60" transform="matrix(0.8997 0 0 1 576.99 35.00)">0</text>
<text font-size="28.60" transform="matrix(0.9181 0 0 1 592.30 35.00)">.</text>
<text font-size="28.60" transform="matrix(0.9462 0 0 1 599.13 35.00)">9</text>
<text font-size="28.60" transform="matrix(0.9975 0 0 1 614.54 35.00)">;</text>
<text font-size="28.60" font-style="italic" transform="matrix(0.9251 0 0 1 629.53 35.00)">ω</text>
<rect x="662.90" y="23.66" width="12.40" height="2.45"/>
<rect x="662.90" y="29.69" width="12.40" height="2.45"/>
<rect x="678.20" y="26.62" width="13.00" height="2.45"/>
<text font-size="28.60" transform="matrix(0.9020 0 0 1 691.81 35.00)">4</text>
<text font-size="28.60" transform="matrix(0.9690 0 0 1 707.20 35.00)">/</text>
<text font-size="28.60" transform="matrix(0.8702 0 0 1 714.55 35.00)">3</text>
<text font-size="18.20" font-style="italic" transform="matrix(0.9590 0 0 1 649.91 39.00)">q</text>
</svg></body></html>
